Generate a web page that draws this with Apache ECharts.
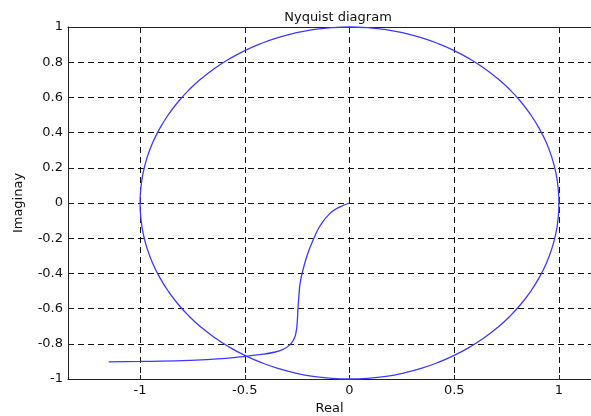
<!DOCTYPE html>
<html>
<head>
<meta charset="utf-8">
<script src="https://cdn.jsdelivr.net/npm/echarts@6/dist/echarts.min.js"></script>
<style>html,body{margin:0;padding:0;background:#fff;}#c{width:591px;height:416px;}</style>
</head>
<body>
<div id="c"></div>
<script>
// Unit circle (points every 5 degrees, starting at the bottom, counter-clockwise)
var circleX = [0, 0.087, 0.174, 0.259, 0.342, 0.423, 0.5, 0.574, 0.643, 0.707, 0.766, 0.819, 0.866, 0.906, 0.940, 0.966, 0.985, 0.996,
  1, 0.996, 0.985, 0.966, 0.940, 0.906, 0.866, 0.819, 0.766, 0.707, 0.643, 0.574, 0.5, 0.423, 0.342, 0.259, 0.174, 0.087,
  0, -0.087, -0.174, -0.259, -0.342, -0.423, -0.5, -0.574, -0.643, -0.707, -0.766, -0.819, -0.866, -0.906, -0.940, -0.966, -0.985, -0.996,
  -1, -0.996, -0.985, -0.966, -0.940, -0.906, -0.866, -0.819, -0.766, -0.707, -0.643, -0.574, -0.5, -0.423, -0.342, -0.259, -0.174, -0.087, 0];
var circleY = [-1, -0.996, -0.985, -0.966, -0.940, -0.906, -0.866, -0.819, -0.766, -0.707, -0.643, -0.574, -0.5, -0.423, -0.342, -0.259, -0.174, -0.087,
  0, 0.087, 0.174, 0.259, 0.342, 0.423, 0.5, 0.574, 0.643, 0.707, 0.766, 0.819, 0.866, 0.906, 0.940, 0.966, 0.985, 0.996,
  1, 0.996, 0.985, 0.966, 0.940, 0.906, 0.866, 0.819, 0.766, 0.707, 0.643, 0.574, 0.5, 0.423, 0.342, 0.259, 0.174, 0.087,
  0, -0.087, -0.174, -0.259, -0.342, -0.423, -0.5, -0.574, -0.643, -0.707, -0.766, -0.819, -0.866, -0.906, -0.940, -0.966, -0.985, -0.996, -1];
// Nyquist curve
var nyqX = [0, -0.05, -0.093, -0.138, -0.17, -0.2, -0.222, -0.235, -0.241, -0.246, -0.25, -0.256, -0.266, -0.285, -0.315, -0.36, -0.43, -0.52, -0.63, -0.757, -0.9, -0.995, -1.15];
var nyqY = [0, -0.025, -0.059, -0.125, -0.2, -0.29, -0.38, -0.45, -0.52, -0.6, -0.684, -0.74, -0.775, -0.806, -0.83, -0.848, -0.862, -0.874, -0.886, -0.894, -0.899, -0.9, -0.903];

var xMin = -1.344, xMax = 1.153, yMin = -1, yMax = 1;
var titleText = 'Nyquist diagram', xName = 'Real', yName = 'Imaginay';

function pairs(xs, ys){ return xs.map(function(v,i){ return [v, ys[i]]; }); }

var font = 'DejaVu Sans, sans-serif';
var fs = 13;
var chart = echarts.init(document.getElementById('c'), null, {renderer:'canvas'});
var dashed = {show:true, lineStyle:{color:'#111', type:[6,4], width:1}};
chart.setOption({
  animation:false,
  backgroundColor:'#fff',
  title:{text:titleText, left:333, top:6, textAlign:'center',
    textStyle:{fontFamily:font, fontSize:fs, fontWeight:'normal', color:'#111'}},
  grid:{left:68, top:27, right:0, bottom:37, containLabel:false, outerBoundsMode:'none'},
  xAxis:[{
    type:'value', min:xMin, max:xMax, splitNumber:5,
    name:xName, nameLocation:'middle', nameGap:23,
    nameTextStyle:{fontFamily:font, fontSize:fs, color:'#111'},
    axisLine:{show:true, onZero:false, lineStyle:{color:'#222', width:1}},
    axisTick:{show:true, inside:true, length:4, lineStyle:{color:'#222'}},
    axisLabel:{fontFamily:font, fontSize:fs, color:'#111', margin:5, showMinLabel:false, showMaxLabel:false},
    splitLine:dashed
  },{
    type:'value', min:xMin, max:xMax, splitNumber:5, position:'top',
    axisLine:{show:true, onZero:false, lineStyle:{color:'#222', width:1}},
    axisTick:{show:true, inside:true, length:4, lineStyle:{color:'#222'}},
    axisLabel:{show:false}, splitLine:{show:false}
  }],
  yAxis:[{
    type:'value', min:yMin, max:yMax, interval:0.2,
    name:yName, nameLocation:'middle', nameGap:43, nameRotate:90,
    nameTextStyle:{fontFamily:font, fontSize:fs, color:'#111'},
    axisLine:{show:true, onZero:false, lineStyle:{color:'#222', width:1}},
    axisTick:{show:true, inside:true, length:4, lineStyle:{color:'#222'}},
    axisLabel:{fontFamily:font, fontSize:fs, color:'#111', margin:5,
      formatter:function(v){ return String(Math.round(v*10)/10); }},
    splitLine:dashed
  }],
  series:[
    {type:'line', data:pairs(circleX, circleY), smooth:true, showSymbol:false, clip:false,
      lineStyle:{color:'#3a3aff', width:1.3}},
    {type:'line', data:pairs(nyqX, nyqY), smooth:true, showSymbol:false, clip:false,
      lineStyle:{color:'#3a3aff', width:1.3}}
  ]
});
</script>
</body>
</html>
